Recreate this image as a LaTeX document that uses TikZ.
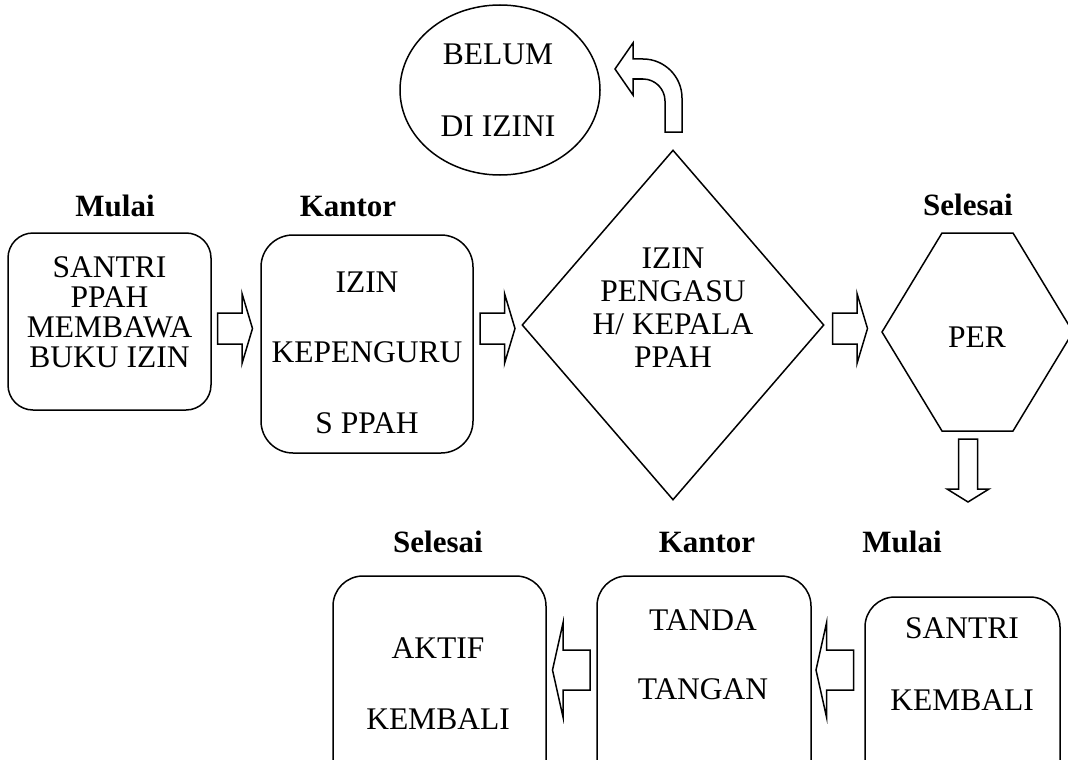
\documentclass[tikz,border=0pt]{standalone}
\usepackage{fontspec}
\setmainfont{Liberation Serif}
\usetikzlibrary{shapes.geometric}

% centred lines with a chosen row spacing; the baseline is that of the first line
\newcommand{\stacklines}[2]{{\renewcommand{\arraystretch}{#1}\begin{tabular}[t]{@{}c@{}}#2\end{tabular}}}

\begin{document}
\begin{tikzpicture}[x=1pt,y=-1pt,
  outline/.style={draw=black,line width=1.5pt,fill=white,line join=miter},
  boxshape/.style={outline,rectangle,inner sep=0pt},
  ovalshape/.style={outline,ellipse,inner sep=0pt},
  diamondshape/.style={outline,diamond,inner sep=0pt},
  steptext/.style={font=\fontsize{31.5}{30}\selectfont,anchor=base,inner sep=0pt},
  heading/.style={font=\fontsize{31}{30}\selectfont\bfseries,anchor=base,inner sep=0pt},
  rarrow/.pic={\draw[outline] (0,-15.5) -- (24.5,-15.5) -- (24.5,-35) -- (35,0)
      -- (24.5,35) -- (24.5,15.5) -- (0,15.5) -- cycle;},
  larrow/.pic={\draw[outline] (0,-20) -- (-27,-20) -- (-27,-47) -- (-37.5,0)
      -- (-27,47) -- (-27,20) -- (0,20) -- cycle;},
  darrow/.pic={\draw[outline] (-9.5,0) -- (-9.5,50) -- (-21,50) -- (0,63)
      -- (21,50) -- (9.5,50) -- (9.5,0) -- cycle;}
]
\useasboundingbox (0,0) rectangle (1068,760);

% ---- shapes of the first row ----
\node[ovalshape,minimum width=200pt,minimum height=170pt] (belum) at (500,90) {};
\node[boxshape,rounded corners=25pt,minimum width=203pt,minimum height=177pt] (santri) at (109.5,321.5) {};
\node[boxshape,rounded corners=32pt,minimum width=212pt,minimum height=218pt] (kepengurusan) at (367,344) {};
\node[diamondshape,minimum width=302pt,minimum height=350pt] (pengasuh) at (673,325) {};
\coordinate (per) at (977.5,332);
\draw[outline] (942,233) -- (1013,233) -- (1073,332) -- (1013,431) -- (942,431) -- (882,332) -- cycle;

% ---- shapes of the second row ----
\node[boxshape,rounded corners=30pt,minimum width=213pt,minimum height=214pt] (aktif) at (439.5,683) {};
\node[boxshape,rounded corners=30pt,minimum width=214pt,minimum height=214pt] (ttd) at (704,683) {};
\node[boxshape,rounded corners=30pt,minimum width=195pt,minimum height=193pt] (kembali) at (962.5,693.5) {};

% ---- block arrows ----
\pic (a1) at (217.5,328.5) {rarrow};
\pic (a2) at (480,328.5) {rarrow};
\pic (a3) at (832.5,328.5) {rarrow};
\pic (a4) at (968,439) {darrow};
\pic (a5) at (853.5,670) {larrow};
\pic (a6) at (590,670) {larrow};
% bent arrow from the decision up to the refusal
\draw[outline] (665,132) -- (665,101) .. controls (665,88.9) and (655.1,79) .. (643,79)
  -- (633,79) -- (633,95) -- (615,69) -- (633,43) -- (633,59) -- (643,59)
  .. controls (664.5,59) and (682,76.5) .. (682,98) -- (682,132) -- cycle;

% ---- headings ----
\node[heading] (h1) at (115,216) {Mulai};
\node[heading] (h2) at (348,216) {Kantor};
\node[heading] (h3) at (968,215) {Selesai};
\node[heading] (h4) at (438,552) {Selesai};
\node[heading] (h5) at (707,552) {Kantor};
\node[heading] (h6) at (902,552) {Mulai};

% ---- texts inside the shapes ----
\node[steptext] (t-belum) at (498,65) {\stacklines{2.4}{BELUM\\DI IZINI}};
\node[steptext] (t-santri) at (109.5,277) {\stacklines{1.01}{SANTRI\\PPAH\\MEMBAWA\\BUKU IZIN}};
\node[steptext] (t-kepengurusan) at (367,292) {\stacklines{2.35}{IZIN\\KEPENGURU\\S PPAH}};
\node[steptext] (t-pengasuh) at (673,268) {\stacklines{1.11}{IZIN\\PENGASU\\H/ KEPALA\\PPAH}};
\node[steptext] (t-per) at (977,347) {PER};
\node[steptext] (t-aktif) at (438,658) {\stacklines{2.37}{AKTIF\\KEMBALI}};
\node[steptext] (t-ttd) at (703,630) {\stacklines{2.33}{TANDA\\TANGAN}};
\node[steptext] (t-kembali) at (962,638) {\stacklines{2.4}{SANTRI\\KEMBALI}};
\end{tikzpicture}
\end{document}
